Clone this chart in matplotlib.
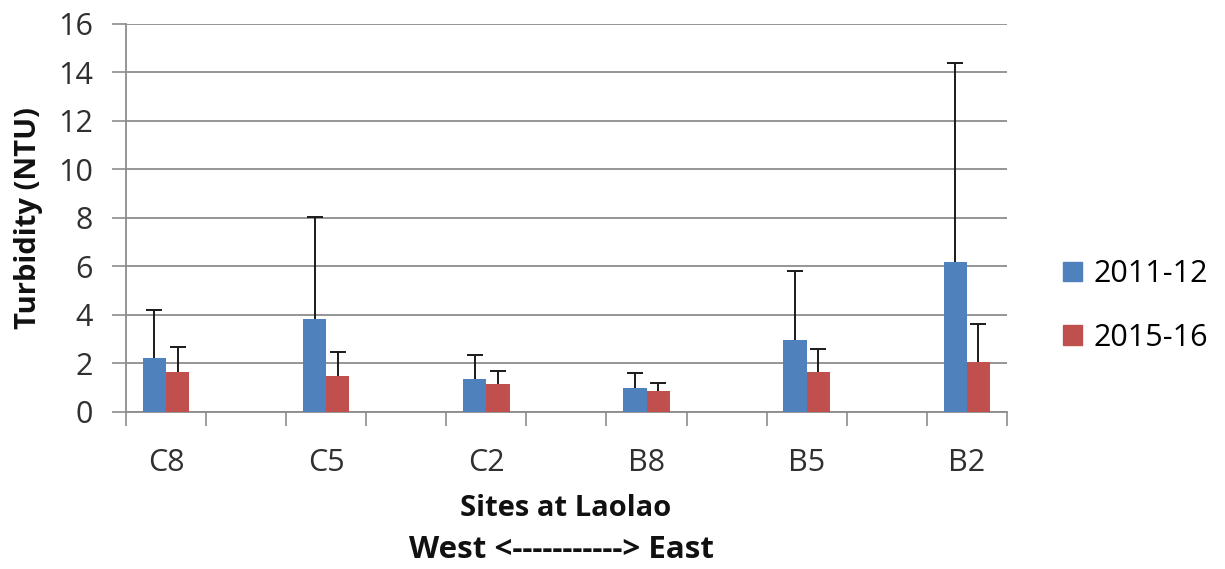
import matplotlib
matplotlib.use("Agg")
import matplotlib.pyplot as plt
import numpy as np
from matplotlib.patches import Patch

sites = ["C8", "C5", "C2", "B8", "B5", "B2"]
series_names = ["2011-12", "2015-16"]
mean_2011 = [2.21, 3.85, 1.36, 1.00, 2.97, 6.20]
err_2011 = [1.98, 4.18, 0.99, 0.62, 2.84, 8.19]
mean_2015 = [1.64, 1.50, 1.15, 0.87, 1.65, 2.07]
err_2015 = [1.05, 0.97, 0.54, 0.34, 0.96, 1.55]
colors = ["#4F81BD", "#C0504D"]

plt.rcParams['font.family'] = ['Open Sans', 'DejaVu Sans']

fig = plt.figure(figsize=(12.25, 5.69), dpi=100)
ax = fig.add_axes([0.1029, 0.276, 0.719, 0.682])

pos = np.arange(len(sites)) * 2
bw = 0.29
ax.bar(pos - bw/2, mean_2011, bw, color=colors[0], zorder=3)
ax.bar(pos + bw/2, mean_2015, bw, color=colors[1], zorder=3)
for off, m, e in [(-bw/2, mean_2011, err_2011), (bw/2, mean_2015, err_2015)]:
    _, caps, _ = ax.errorbar(pos + off, m, yerr=[np.zeros(len(sites)), e], fmt='none',
                             ecolor='#1a1a1a', elinewidth=1.4, capsize=6, capthick=1.4, zorder=4)
    caps[0].set_visible(False)

ax.set_xlim(-0.5, pos[-1] + 0.5)
ax.set_ylim(0, 16)
ax.set_yticks(np.arange(0, 17, 2))
ax.yaxis.grid(True, color='#8C8C8C', linewidth=1.3, zorder=0)
ax.set_axisbelow(True)

ax.set_xticks(pos)
ax.set_xticklabels(sites, fontsize=22, color='#303030')
ax.set_xticks(np.arange(-0.5, pos[-1] + 1, 1), minor=True)
ax.tick_params(axis='x', which='major', length=0, pad=26)
ax.tick_params(axis='x', which='minor', length=10, color='#8C8C8C', width=1.2)
ax.tick_params(axis='y', length=10, color='#8C8C8C', width=1.2, labelsize=22,
               labelcolor='#303030', pad=14)

for s in ['top', 'right']:
    ax.spines[s].set_visible(False)
for s in ['left', 'bottom']:
    ax.spines[s].set_color('#8C8C8C')
    ax.spines[s].set_linewidth(1.3)

ax.set_ylabel("Turbidity (NTU)", fontsize=21, fontweight='bold', color='#111111')
ax.yaxis.set_label_coords(-0.094, 0.5)
fig.text(0.462, 1 - 509/569, "Sites at Laolao", fontsize=21, fontweight='bold',
         ha='center', va='center', color='#111111')
fig.text(0.458, 1 - 550/569, "West <-----------> East", fontsize=22.5, fontweight='bold',
         ha='center', va='center', color='#111111')

handles = [Patch(color=colors[0]), Patch(color=colors[1])]
fig.legend(handles, series_names, loc='center left', bbox_to_anchor=(0.868, 1 - 306/569),
           frameon=False, fontsize=22, handlelength=0.6, handleheight=0.6,
           labelspacing=1.1, handletextpad=0.4, borderaxespad=0, borderpad=0)

fig.savefig("out.png", dpi=100)
